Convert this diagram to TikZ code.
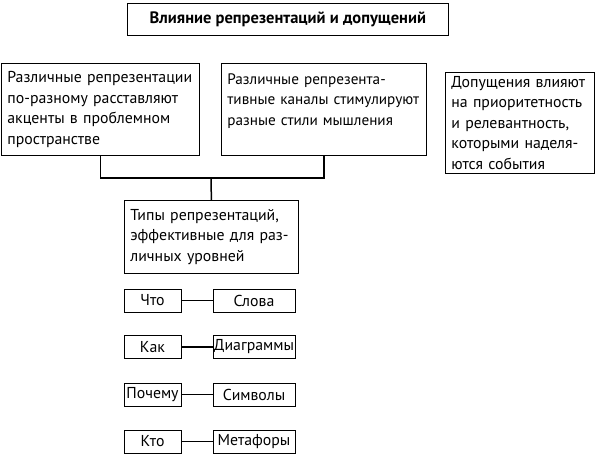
\documentclass[tikz,border=0pt]{standalone}
\usepackage{fontspec}
\setmainfont{PT Sans}

\begin{document}
\begin{tikzpicture}[x=1pt, y=-1pt,
        every node/.style={font=\fontsize{15.8}{20.5}\selectfont},
        box/.style={draw, line width=0.8pt, rectangle, anchor=north west, inner xsep=6pt, inner ysep=0pt, align=left},
        tag/.style={draw, line width=0.8pt, rectangle, minimum height=23pt, inner sep=1pt},
        link/.style={line width=1.5pt}]
        \useasboundingbox (0,0) rectangle (596,460);

        \node[box, minimum width=321pt, minimum height=32pt, align=center, font=\bfseries\fontsize{16.5}{20}\selectfont] (Title) at (127,3) {Влияние репрезентаций и допущений};

        \node[box, text width=186pt, minimum height=92pt] (Diff) at (1,63) {Различные репрезентации\\по-разному расставляют\\акценты в проблемном\\пространстве};
        \node[box, inner xsep=6pt, text width=193pt, minimum height=92pt, font=\fontsize{15.2}{20.5}\selectfont] (Chan) at (221,63) {Различные репрезента-\\\mbox{тивные каналы стимулируют}\\разные стили мышления\\~};
        \node[box, text width=137pt, minimum height=101pt] (Assum) at (445,72) {Допущения влияют\\на приоритетность\\и релевантность,\\которыми наделя-\\ются события};
        \node[box, text width=162pt, minimum height=73pt] (Types) at (124,200) {Типы репрезентаций,\\эффективные для раз-\\личных уровней};

        \node[tag, minimum width=57pt] (What) at (152.5,300.5) {Что};
        \node[tag, minimum width=57pt] (How) at (152.5,347) {Как};
        \node[tag, minimum width=57pt] (Why) at (152.5,394.5) {Почему};
        \node[tag, minimum width=57pt] (Who) at (152.5,441.5) {Кто};
        \node[tag, minimum width=82pt] (Words) at (254,300.5) {Слова};
        \node[tag, minimum width=82pt] (Diag) at (254,347) {Диаграммы};
        \node[tag, minimum width=82pt] (Sym) at (254,394.5) {Символы};
        \node[tag, minimum width=82pt] (Meta) at (254,441.5) {Метафоры};

        \coordinate (Fork) at (211,178);
        \draw[link] (Diff.south) |- (Fork) -| (Chan.south);
        \draw[link] (Fork) -- (Types.north);
        \draw[link] (What) -- (Words);
        \draw[link] (How) -- (Diag);
        \draw[link] (Why) -- (Sym);
        \draw[link] (Who) -- (Meta);
    \end{tikzpicture}
\end{document}
